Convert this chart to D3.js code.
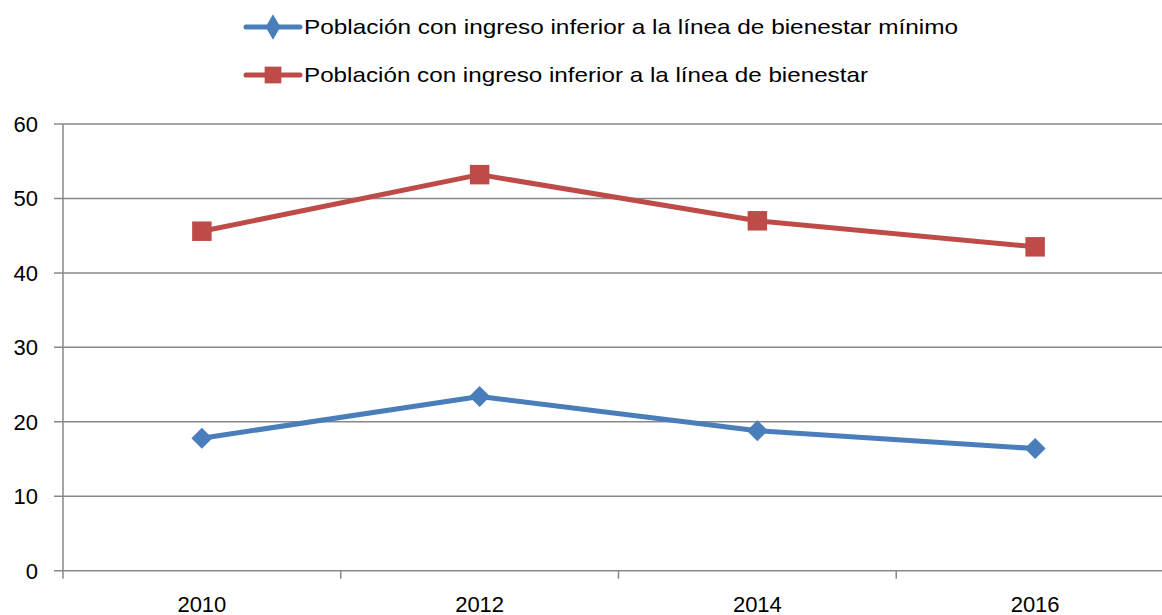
<!DOCTYPE html>
<html>
<head>
<meta charset="utf-8">
<script src="https://cdn.jsdelivr.net/npm/d3@7"></script>
<style>
  body { margin: 0; background: #fff; }
  svg { display: block; font-family: "Liberation Sans", Arial, sans-serif; }
</style>
</head>
<body>
<div id="chart"></div>
<script>
// data
var years = ["2010", "2012", "2014", "2016"];
var minimo = [17.8, 23.4, 18.8, 16.4];
var bienestar = [45.6, 53.2, 47.0, 43.5];
var yTicks = [0, 10, 20, 30, 40, 50, 60];
var seriesNames = [
    "Población con ingreso inferior a la línea de bienestar mínimo",
    "Población con ingreso inferior a la línea de bienestar"
];

var W = 1162, H = 615;
var plotLeft = 63, plotRight = 1174, plotTop = 124, plotBottom = 570.7;

var svg = d3.select("#chart").append("svg")
    .attr("width", W)
    .attr("height", H);

var x = d3.scaleBand().domain(years).range([plotLeft, plotRight]);
var y = d3.scaleLinear().domain([0, 60]).range([plotBottom, plotTop]);

// gridlines
svg.append("g")
    .selectAll("line")
    .data(yTicks)
    .join("line")
    .attr("x1", plotLeft - 9)
    .attr("x2", W)
    .attr("y1", function(d) { return y(d); })
    .attr("y2", function(d) { return y(d); })
    .attr("stroke", "#888")
    .attr("stroke-width", 1.5);

// y labels
svg.append("g")
    .selectAll("text")
    .data(yTicks)
    .join("text")
    .attr("x", 38)
    .attr("y", function(d) { return y(d) + 8; })
    .attr("text-anchor", "end")
    .attr("font-size", 22)
    .attr("fill", "#000")
    .text(function(d) { return d; });

// vertical axis
svg.append("line")
    .attr("x1", plotLeft).attr("x2", plotLeft)
    .attr("y1", plotTop).attr("y2", plotBottom + 8)
    .attr("stroke", "#888")
    .attr("stroke-width", 1.5);

// x ticks at band boundaries
var bounds = years.slice(1).map(function(d) { return x(d); });
svg.append("g")
    .selectAll("line")
    .data(bounds)
    .join("line")
    .attr("x1", function(d) { return d; })
    .attr("x2", function(d) { return d; })
    .attr("y1", plotBottom)
    .attr("y2", plotBottom + 8)
    .attr("stroke", "#888")
    .attr("stroke-width", 1.5);

svg.append("g")
    .selectAll("text")
    .data(years)
    .join("text")
    .attr("x", function(d) { return x(d) + x.bandwidth() / 2; })
    .attr("y", 612)
    .attr("text-anchor", "middle")
    .attr("font-size", 22)
    .attr("fill", "#000")
    .text(function(d) { return d; });

var line = d3.line()
    .x(function(d, i) { return x(years[i]) + x.bandwidth() / 2; })
    .y(function(d) { return y(d); });

var blue = "#4a7ebb", red = "#be4b48";

function drawSeries(vals, color, size, rot) {
    svg.append("path")
        .datum(vals)
        .attr("d", line)
        .attr("fill", "none")
        .attr("stroke", color)
        .attr("stroke-width", 5)
        .attr("stroke-linejoin", "round");
    svg.append("g")
        .selectAll("path")
        .data(vals)
        .join("path")
        .attr("transform", function(d, i) {
            return "translate(" + (x(years[i]) + x.bandwidth() / 2) + "," + y(d) + ") rotate(" + rot + ")";
        })
        .attr("d", d3.symbol().type(d3.symbolSquare).size(size))
        .attr("fill", color);
}

drawSeries(bienestar, red, 380, 0);
drawSeries(minimo, blue, 220, 45);

// legend
var legend = [
    {name: seriesNames[0], color: blue, symbol: d3.symbolDiamond, size: 190, y: 27, len: 654},
    {name: seriesNames[1], color: red, symbol: d3.symbolSquare, size: 280, y: 75, len: 564}
];
var lg = svg.append("g").selectAll("g").data(legend).join("g")
    .attr("transform", function(d) { return "translate(0," + d.y + ")"; });
lg.append("line")
    .attr("x1", 246).attr("x2", 300)
    .attr("stroke", function(d) { return d.color; })
    .attr("stroke-width", 5)
    .attr("stroke-linecap", "round");
lg.append("path")
    .attr("transform", "translate(273,0)")
    .attr("d", function(d) { return d3.symbol().type(d.symbol).size(d.size)(); })
    .attr("fill", function(d) { return d.color; });
lg.append("text")
    .attr("x", 304)
    .attr("y", 7)
    .attr("font-size", 21)
    .attr("textLength", function(d) { return d.len; })
    .attr("lengthAdjust", "spacingAndGlyphs")
    .attr("fill", "#000")
    .text(function(d) { return d.name; });
</script>
</body>
</html>
